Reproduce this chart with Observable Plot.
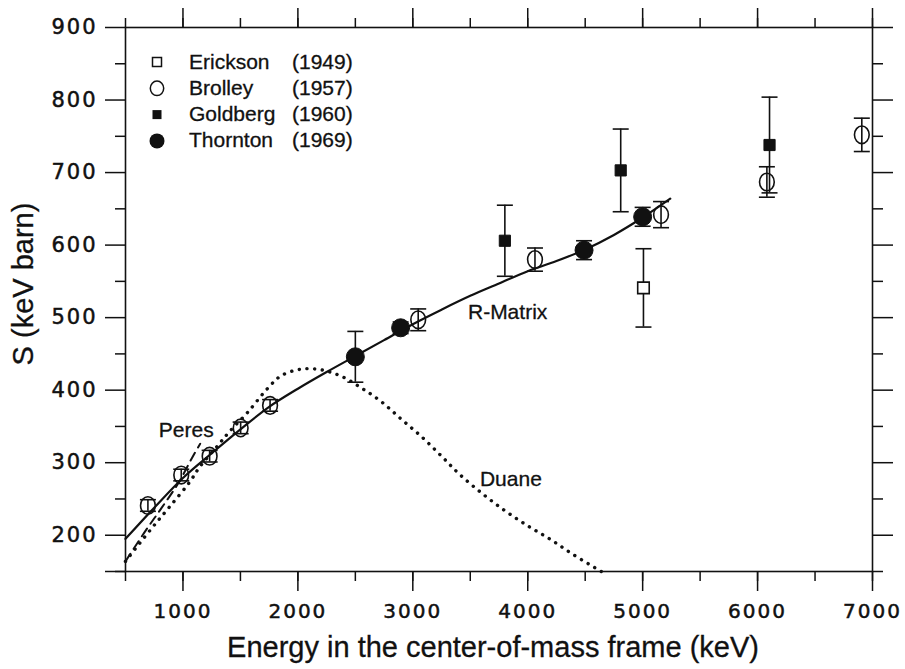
<!DOCTYPE html>
<html><head><meta charset="utf-8">
<script src="https://cdn.jsdelivr.net/npm/d3@7"></script>
<script src="https://cdn.jsdelivr.net/npm/@observablehq/plot@0.6"></script>
<style>
html,body{margin:0;padding:0;background:#fff;}
#chart svg{display:block;}
g[aria-label="x-axis tick label"] text, g[aria-label="y-axis tick label"] text{letter-spacing:2px;stroke:#111;stroke-width:0.5px;}
</style></head><body><div id="chart"></div>
<script>
// ---- data ----
const brolleyE   = [695, 985, 1232, 1502, 1758, 3047, 4063, 5160, 6081, 6907];
const brolleyS   = [241, 283, 309, 348, 379, 497, 580, 642, 687, 752];
const brolleyErr = [8, 8, 8, 8, 8, 15, 16, 18, 21, 23];

const ericksonE   = [5007];
const ericksonS   = [541];
const ericksonErr = [54];

const goldbergE   = [3801, 4809, 6104];
const goldbergS   = [606, 703, 738];
const goldbergErr = [49, 57, 66];

const thorntonE   = [2500, 2894, 4490, 5000];
const thorntonS   = [446, 486, 593, 639];
const thorntonErr = [35, 8, 13, 13];

const rmatrixE = [500, 750, 1000, 1250, 1500, 1750, 2000, 2250, 2500, 2750, 3000, 3250, 3500, 3750, 4000, 4250, 4500, 4750, 5000, 5240];
const rmatrixS = [195, 238, 279, 313, 346, 377, 402, 425, 447, 469, 491, 511, 530, 547, 564, 578, 594, 614, 638, 664];

const duaneE = [500, 725, 883, 1057, 1145, 1305, 1400, 1566, 1740, 1856, 2030, 2205, 2380, 2553, 2727, 2900, 3075, 3250, 3400, 3600, 3800, 4000, 4200, 4400, 4640];
const duaneS = [164, 209, 239, 273, 294, 324, 342, 370, 403, 420, 429, 428, 419, 403, 384, 360, 336, 309, 285, 258, 234, 213, 194, 173, 150];

const peresE = [500, 665, 811, 960, 1087, 1150];
const peresS = [164, 204, 237, 272, 309, 326];

const xTicksMajor = d3.range(1000, 7001, 1000);
const xTicksMinor = d3.range(500, 7001, 500);
const yTicksMajor = d3.range(200, 901, 100);
const yTicksMinor = d3.range(150, 851, 100);

const legendItems = [
  {name: "Erickson", year: "(1949)"},
  {name: "Brolley", year: "(1957)"},
  {name: "Goldberg", year: "(1960)"},
  {name: "Thornton", year: "(1969)"}
];

const curveLabels = [
  {e: 790, s: 335, text: "Peres"},
  {e: 3480, s: 498, text: "R-Matrix"},
  {e: 3584, s: 268, text: "Duane"}
];

// ---- tables ----
const rows = (E, S, Err) => E.map((e, i) => ({e, s: S[i], err: Err[i]}));
const brolley = rows(brolleyE, brolleyS, brolleyErr);
const erickson = rows(ericksonE, ericksonS, ericksonErr);
const goldberg = rows(goldbergE, goldbergS, goldbergErr);
const thornton = rows(thorntonE, thorntonS, thorntonErr);
const allErr = [...brolley, ...erickson, ...goldberg, ...thornton];
const curve = (E, S) => E.map((e, i) => ({e, s: S[i]}));

const cap = {draw(ctx, size) { const w = Math.sqrt(size / Math.PI); ctx.moveTo(-w, 0); ctx.lineTo(w, 0); }};
const ovalO = {draw(ctx, size) {
  const r = Math.sqrt(size / Math.PI), a = r * 0.92, b = r * 1.1, k = 0.5523;
  ctx.moveTo(a, 0);
  ctx.bezierCurveTo(a, b * k, a * k, b, 0, b);
  ctx.bezierCurveTo(-a * k, b, -a, b * k, -a, 0);
  ctx.bezierCurveTo(-a, -b * k, -a * k, -b, 0, -b);
  ctx.bezierCurveTo(a * k, -b, a, -b * k, a, 0);
  ctx.closePath();
}};
const ink = "#111";
const font = "Liberation Sans, Arial, sans-serif";
const tickFont = {fontFamily: "DejaVu Sans", fontSize: 20};
const plain = d => String(d);

const svg = Plot.plot({
  width: 905, height: 669,
  marginLeft: 125, marginRight: 33, marginTop: 27, marginBottom: 98,
  style: {fontFamily: font, background: "#fff", color: ink},
  x: {domain: [500, 7000]},
  y: {domain: [150, 900]},
  marks: [
    Plot.frame({stroke: ink, strokeWidth: 1.6}),
    // bottom axis
    Plot.axisX({anchor: "bottom", ticks: xTicksMinor, tickSize: 10, tickFormat: () => "", label: null, strokeWidth: 1.5}),
    Plot.axisX({anchor: "bottom", ticks: xTicksMajor, tickSize: 20, tickPadding: 12, tickFormat: plain, label: null, strokeWidth: 1.5, ...tickFont}),
    // top axis
    Plot.axisX({anchor: "top", ticks: xTicksMinor, tickSize: 10, tickFormat: () => "", label: null, strokeWidth: 1.5}),
    Plot.axisX({anchor: "top", ticks: xTicksMajor, tickSize: 20, tickFormat: () => "", label: null, strokeWidth: 1.5}),
    // left axis
    Plot.axisY({anchor: "left", ticks: yTicksMinor, tickSize: 10, tickFormat: () => "", label: null, strokeWidth: 1.5}),
    Plot.axisY({anchor: "left", ticks: [150], tickSize: 20, tickFormat: () => "", label: null, strokeWidth: 1.5}),
    Plot.axisY({anchor: "left", ticks: yTicksMajor, tickSize: 20, tickPadding: 8, tickFormat: plain, label: null, strokeWidth: 1.5, ...tickFont, fontSize: 21}),
    // right axis
    Plot.axisY({anchor: "right", ticks: yTicksMinor, tickSize: 10, tickFormat: () => "", label: null, strokeWidth: 1.5}),
    Plot.axisY({anchor: "right", ticks: yTicksMajor, tickSize: 20, tickFormat: () => "", label: null, strokeWidth: 1.5}),
    // curves
    Plot.line(curve(rmatrixE, rmatrixS), {x: "e", y: "s", curve: "catmull-rom", stroke: ink, strokeWidth: 2.2}),
    Plot.line(curve(duaneE, duaneS), {x: "e", y: "s", curve: "catmull-rom", stroke: ink, strokeWidth: 3.4, strokeDasharray: "0.1 7.6", strokeLinecap: "round"}),
    Plot.line(curve(peresE, peresS), {x: "e", y: "s", curve: "catmull-rom", stroke: ink, strokeWidth: 2, strokeDasharray: "9 6"}),
    // error bars
    Plot.ruleX(allErr, {x: "e", y1: d => d.s - d.err, y2: d => d.s + d.err, stroke: ink, strokeWidth: 1.6}),
    Plot.dot(allErr, {x: "e", y: d => d.s - d.err, symbol: cap, r: 8, stroke: ink, strokeWidth: 1.6}),
    Plot.dot(allErr, {x: "e", y: d => d.s + d.err, symbol: cap, r: 8, stroke: ink, strokeWidth: 1.6}),
    // markers
    Plot.dot(brolley, {x: "e", y: "s", symbol: ovalO, r: 8, fill: "none", stroke: ink, strokeWidth: 1.6}),
    Plot.dot(erickson, {x: "e", y: "s", symbol: "square", r: 6.5, fill: "#fff", stroke: ink, strokeWidth: 1.6}),
    Plot.dot(goldberg, {x: "e", y: "s", symbol: "square", r: 6.3, fill: ink, stroke: ink, strokeWidth: 1}),
    Plot.dot(thornton, {x: "e", y: "s", symbol: "circle", r: 9, fill: ink, stroke: ink, strokeWidth: 1}),
    // curve labels
    Plot.text(curveLabels, {x: "e", y: "s", text: "text", textAnchor: "start", lineAnchor: "bottom", fontSize: 21, fill: ink, fontFamily: font, stroke: ink, strokeWidth: 0.3})
  ]
});

const root = d3.select(svg);
// axis titles
root.append("text").attr("x", 493).attr("y", 657).attr("text-anchor", "middle")
  .attr("font-family", font).attr("font-size", 29).attr("fill", ink).attr("stroke", ink).attr("stroke-width", 0.3)
  .text("Energy in the center-of-mass frame (keV)");
root.append("text").attr("transform", "translate(33,284) rotate(-90)").attr("text-anchor", "middle")
  .attr("font-family", font).attr("font-size", 29).attr("fill", ink).attr("stroke", ink).attr("stroke-width", 0.3)
  .text("S (keV barn)");

// legend
const lg = root.append("g").attr("font-family", font).attr("font-size", 21).attr("fill", ink)
  .attr("text-anchor", "start").attr("stroke-width", 0.3);
legendItems.forEach((d, i) => {
  const cy = 62 + i * 26.3;
  const g = lg.append("g").attr("transform", `translate(157,${cy})`);
  if (i === 0) g.append("rect").attr("x", -4.5).attr("y", -4.5).attr("width", 9).attr("height", 9).attr("fill", "#fff").attr("stroke", ink).attr("stroke-width", 1.5);
  if (i === 1) g.append("ellipse").attr("rx", 6.7).attr("ry", 7.3).attr("fill", "#fff").attr("stroke", ink).attr("stroke-width", 1.5);
  if (i === 2) g.append("rect").attr("x", -4.5).attr("y", -4.5).attr("width", 9).attr("height", 9).attr("fill", ink);
  if (i === 3) g.append("circle").attr("r", 7.5).attr("fill", ink);
  lg.append("text").attr("x", 189).attr("y", cy + 6.5).attr("stroke", ink).text(d.name);
  lg.append("text").attr("x", 292).attr("y", cy + 6.5).attr("stroke", ink).text(d.year);
});

document.getElementById("chart").appendChild(svg);
</script></body></html>
